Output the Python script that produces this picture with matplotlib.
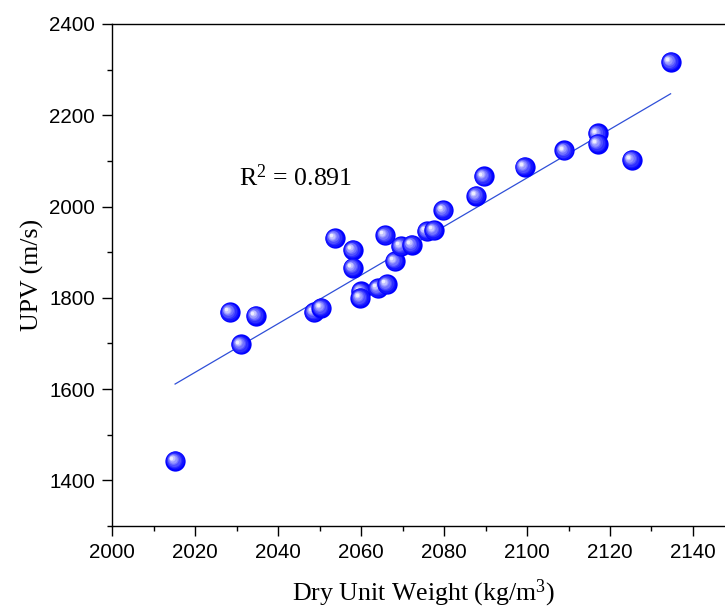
import numpy as np
import matplotlib.pyplot as plt
from matplotlib.ticker import MultipleLocator
from matplotlib.transforms import offset_copy
from matplotlib.colors import to_rgb

plt.rcParams['mathtext.fontset'] = 'custom'
plt.rcParams['mathtext.rm'] = 'Liberation Serif'
plt.rcParams['mathtext.it'] = 'Liberation Serif:italic'

# Dry unit weight (kg/m3) vs UPV (m/s)
dry_unit_weight = [2015.2, 2028.4, 2034.7, 2031.0, 2048.6, 2050.4, 2053.7, 2058.0,
                   2058.0, 2060.0, 2059.8, 2064.0, 2066.2, 2065.8, 2068.1, 2069.6,
                   2072.2, 2075.8, 2077.5, 2079.8, 2087.8, 2089.6, 2099.4, 2109.0,
                   2117.0, 2117.0, 2125.2, 2134.6]
upv = [1443, 1769, 1761, 1698, 1769, 1778, 1931, 1905,
       1866, 1814, 1800, 1821, 1830, 1937, 1880, 1913,
       1916, 1946, 1948, 1992, 2024, 2066, 2087, 2123,
       2160, 2138, 2103, 2317]

# linear fit line end points
fit_x = [2015.2, 2134.6]
fit_y = [1611, 2247]
r2_label = "0.891"

x = np.array(dry_unit_weight)
y = np.array(upv)

fig = plt.figure(figsize=(7.25, 6.08), dpi=100)
ax = fig.add_axes([0.1545, 0.1349, 0.8586, 0.8257])

ax.plot(fit_x, fit_y, color='#2f4fd8', lw=0.9, zorder=2)

# shaded "ball" markers: blue base plus lighter layers shifted up-left
base = np.array(to_rgb('#0000ff'))
light = np.array([0.93, 0.93, 1.0])
n_layers = 7
for i, (xi, yi) in enumerate(zip(x, y)):
    z = 3 + i
    ax.plot(xi, yi, 'o', ms=14.6, color=base, mec='none', zorder=z)
    for k in range(1, n_layers + 1):
        t = k / n_layers
        col = base + (light - base) * t ** 1.3
        ms = 14.6 * (1 - 0.82 * t)
        tr = offset_copy(ax.transData, fig=fig, x=-2.6 * t, y=2.0 * t, units='points')
        ax.plot(xi, yi, 'o', ms=ms, color=col, mec='none', transform=tr,
                zorder=z + 0.01 * k)

ax.text(2030.5, 2063, r"R$^2$ = " + r2_label, fontsize=18.6,
        family='Liberation Serif', va='center', ha='left')

ax.set_xlim(2000, 2150)
ax.set_ylim(1300, 2400)
ax.xaxis.set_major_locator(MultipleLocator(20))
ax.xaxis.set_minor_locator(MultipleLocator(10))
ax.yaxis.set_major_locator(MultipleLocator(200))
ax.yaxis.set_minor_locator(MultipleLocator(100))
ax.set_yticks([1400, 1600, 1800, 2000, 2200, 2400])

ax.tick_params(which='major', direction='out', length=7.2, width=1.0,
               labelsize=14.8, pad=5, top=False, right=False)
ax.tick_params(which='minor', direction='out', length=3.6, width=1.0,
               top=False, right=False)
for lab in ax.get_xticklabels() + ax.get_yticklabels():
    lab.set_family('Liberation Sans')
for s in ax.spines.values():
    s.set_linewidth(1.0)

ax.set_xlabel(r"Dry Unit Weight (kg/m$^3$)", fontsize=18.6,
              family='Liberation Serif', labelpad=11)
ax.set_ylabel("UPV (m/s)", fontsize=18.6, family='Liberation Serif', labelpad=4)

fig.savefig('out.png', dpi=100)
